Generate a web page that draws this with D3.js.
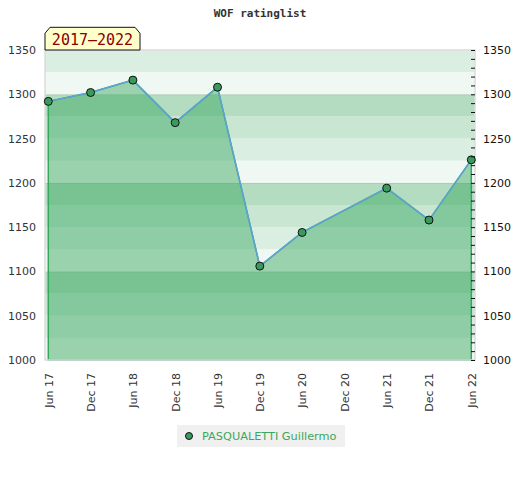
<!DOCTYPE html>
<html>
<head>
<meta charset="utf-8">
<script src="https://cdn.jsdelivr.net/npm/d3@7"></script>
<style>
  body { margin: 0; background: #fff; }
  .axis text { font-family: "DejaVu Sans", sans-serif; font-size: 11px; fill: #333; }
  .axis .domain { display: none; }
</style>
</head>
<body>
<div id="chart"></div>
<script>
// values
var periods = ["Jun 17", "Dec 17", "Jun 18", "Dec 18", "Jun 19", "Dec 19",
               "Jun 20", "Dec 20", "Jun 21", "Dec 21", "Jun 22"];
var ratings = [1292, 1302, 1316, 1268, 1308, 1106, 1144, null, 1194, 1158, 1226];
var ratingTicks = [1000, 1050, 1100, 1150, 1200, 1250, 1300, 1350];
var playerName = "PASQUALETTI Guillermo";
var rangeLabel = "2017\u20132022";
var chartTitle = "WOF ratinglist";

var W = 520, H = 480;
var plot = {left: 45, right: 475, top: 50, bottom: 360};
var bandColors = ["#f0f8f3", "#dbeee2", "#c8e6d2", "#b3dcc1"];

var svg = d3.select("#chart").append("svg")
    .attr("width", W)
    .attr("height", H);

var x = d3.scalePoint()
    .domain(periods)
    .range([48.3, 471.3]);

var y = d3.scaleLinear()
    .domain([1000, 1350])
    .range([plot.bottom, plot.top]);

var pts = periods.map(function(p, i) { return {p: p, v: ratings[i]}; })
    .filter(function(d) { return d.v != null; });

// background bands, 25 points each
svg.append("g").selectAll("rect")
    .data(d3.range(1000, 1350, 25))
  .enter().append("rect")
    .attr("x", plot.left)
    .attr("width", plot.right - plot.left)
    .attr("y", function(d) { return y(d + 25); })
    .attr("height", function(d) { return y(d) - y(d + 25); })
    .attr("fill", function(d) { return bandColors[((d - 1000) / 25) % 4]; });

// faint lines every hundred
svg.append("g").selectAll("line")
    .data([1100, 1200, 1300])
  .enter().append("line")
    .attr("x1", plot.left).attr("x2", plot.right)
    .attr("y1", function(d) { return y(d) + 0.5; })
    .attr("y2", function(d) { return y(d) + 0.5; })
    .attr("stroke", "#000").attr("stroke-opacity", 0.08);

var area = d3.area()
    .x(function(d) { return x(d.p); })
    .y0(y(1000))
    .y1(function(d) { return y(d.v); });

svg.append("path")
    .datum(pts)
    .attr("d", area)
    .attr("fill", "rgb(53,166,93)")
    .attr("fill-opacity", 0.46)
    .attr("stroke", "#36a85c")
    .attr("stroke-width", 1.5);

var line = d3.line()
    .x(function(d) { return x(d.p); })
    .y(function(d) { return y(d.v); });

svg.append("path")
    .datum(pts)
    .attr("d", line)
    .attr("fill", "none")
    .attr("stroke", "#5ea2d8")
    .attr("stroke-width", 1.5);

// plot frame
svg.append("rect")
    .attr("x", plot.left).attr("y", plot.top)
    .attr("width", plot.right - plot.left)
    .attr("height", plot.bottom - plot.top)
    .attr("fill", "none")
    .attr("stroke", "#dcdcdc")
    .attr("stroke-width", 1.5);

svg.selectAll(".dot")
    .data(pts)
  .enter().append("circle")
    .attr("class", "dot")
    .attr("cx", function(d) { return x(d.p); })
    .attr("cy", function(d) { return y(d.v); })
    .attr("r", 4)
    .attr("fill", "#3a9a5e")
    .attr("stroke", "#111")
    .attr("stroke-width", 1);

// left axis
svg.append("g")
    .attr("class", "axis")
    .attr("transform", "translate(" + plot.left + ",0)")
    .call(d3.axisLeft(y).tickValues(ratingTicks).tickFormat(d3.format("d"))
      .tickSize(0).tickPadding(9));

// right axis: minor ticks every 10, labels every 50
svg.append("g")
    .attr("class", "axis")
    .attr("transform", "translate(" + plot.right + ",0)")
    .call(d3.axisLeft(y).tickValues(d3.range(1000, 1351, 10)).tickSize(4).tickFormat(""))
    .selectAll("line").attr("stroke", "#111");

svg.append("g")
    .attr("class", "axis")
    .attr("transform", "translate(" + plot.right + ",0)")
    .call(d3.axisRight(y).tickValues(ratingTicks).tickFormat(d3.format("d"))
      .tickSize(0).tickPadding(8))
    .selectAll("text").style("fill", "#111");

// bottom axis, rotated labels
svg.append("g")
    .attr("class", "axis")
    .attr("transform", "translate(0," + plot.bottom + ")")
    .call(d3.axisBottom(x).tickSize(0).tickPadding(0))
  .selectAll("text")
    .attr("transform", "rotate(-90)")
    .attr("x", -13)
    .attr("y", 0)
    .attr("dx", 0)
    .attr("dy", "0.35em")
    .style("text-anchor", "end");

// title
svg.append("text")
    .attr("x", 260).attr("y", 17)
    .attr("text-anchor", "middle")
    .style("font-family", "DejaVu Sans Mono, monospace")
    .style("font-weight", "bold")
    .style("font-size", "11px")
    .attr("fill", "#333")
    .text(chartTitle);

// range badge
svg.append("polygon")
    .attr("points", "45,50 45,33.3 50,27.3 135,27.3 140,33.3 140,50")
    .attr("fill", "#ffffcc")
    .attr("stroke", "#111")
    .attr("stroke-width", 1);

svg.append("text")
    .attr("x", 92.5).attr("y", 45)
    .attr("text-anchor", "middle")
    .style("font-family", "DejaVu Sans Mono, monospace")
    .style("font-size", "15px")
    .attr("fill", "#8b0000")
    .text(rangeLabel);

// legend
var lg = svg.append("g");
lg.append("rect")
    .attr("x", 177).attr("y", 425)
    .attr("width", 168).attr("height", 22)
    .attr("fill", "#f0f0f0");
lg.append("circle")
    .attr("cx", 189).attr("cy", 436)
    .attr("r", 3.5)
    .attr("fill", "#3a9a5e")
    .attr("stroke", "#111");
lg.append("text")
    .attr("x", 202).attr("y", 440)
    .style("font-family", "DejaVu Sans, sans-serif")
    .style("font-size", "11.3px")
    .attr("fill", "#3aa85c")
    .text(playerName);
</script>
</body>
</html>
